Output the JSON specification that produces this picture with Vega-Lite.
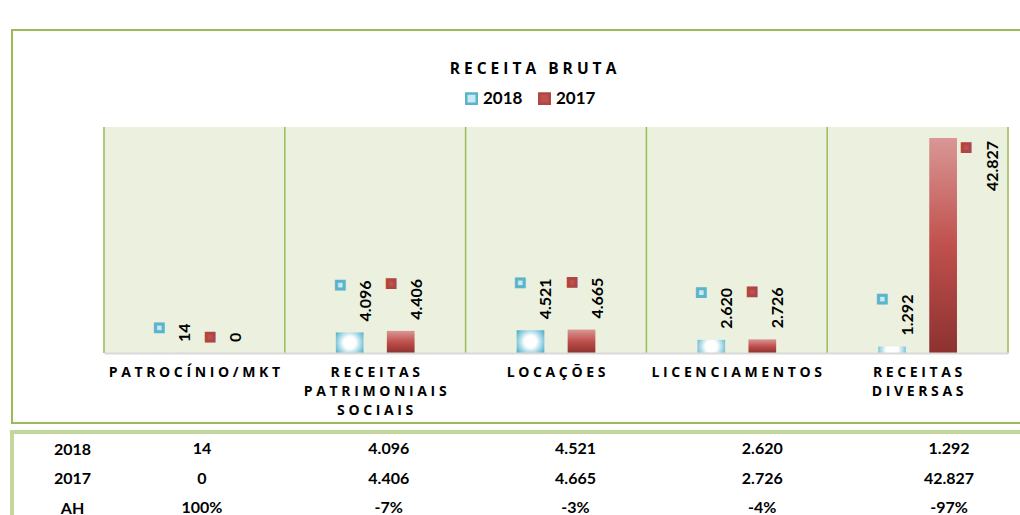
{
  "$schema": "https://vega.github.io/schema/vega-lite/v6.json",
  "padding": {"left": 10, "top": 29, "right": 0, "bottom": 0},
  "background": "#ffffff",
  "config": {
    "locale": {"number": {"decimal": ",", "thousands": ".", "grouping": [3], "currency": ["R$", ""], "minus": "-"}},
    "concat": {"spacing": 6},
    "text": {"font": "Lato"}
  },
  "datasets": {
    "receita": [
      {"cat": "PATROCÍNIO/MKT", "year": "2018", "value": 14},
      {"cat": "PATROCÍNIO/MKT", "year": "2017", "value": 0},
      {"cat": "RECEITAS PATRIMONIAIS SOCIAIS", "year": "2018", "value": 4096},
      {"cat": "RECEITAS PATRIMONIAIS SOCIAIS", "year": "2017", "value": 4406},
      {"cat": "LOCAÇÕES", "year": "2018", "value": 4521},
      {"cat": "LOCAÇÕES", "year": "2017", "value": 4665},
      {"cat": "LICENCIAMENTOS", "year": "2018", "value": 2620},
      {"cat": "LICENCIAMENTOS", "year": "2017", "value": 2726},
      {"cat": "RECEITAS DIVERSAS", "year": "2018", "value": 1292},
      {"cat": "RECEITAS DIVERSAS", "year": "2017", "value": 42827}
    ],
    "ah": [
      {"cat": "PATROCÍNIO/MKT", "ah": 1.0},
      {"cat": "RECEITAS PATRIMONIAIS SOCIAIS", "ah": -0.07},
      {"cat": "LOCAÇÕES", "ah": -0.03},
      {"cat": "LICENCIAMENTOS", "ah": -0.04},
      {"cat": "RECEITAS DIVERSAS", "ah": -0.97}
    ]
  },
  "vconcat": [
    {
      "width": 1042,
      "height": 393,
      "view": {"stroke": "#9BBB59", "strokeWidth": 2, "fill": "#ffffff"},
      "title": {"text": "R E C E I T A \u00a0 B R U T A", "anchor": "middle", "frame": "group", "orient": "top", "offset": -54, "baseline": "middle", "font": "Open Sans", "fontSize": 15.5, "fontWeight": "bold", "color": "#000000"},
      "data": {"name": "receita"},
      "layer": [
        {
          "transform": [{"filter": "datum.year === '2018'"}],
          "mark": {"type": "rect", "color": "#EBF1DE"},
          "encoding": {
            "x": {
              "field": "cat", "type": "nominal",
              "scale": {"domain": ["PATROCÍNIO/MKT", "RECEITAS PATRIMONIAIS SOCIAIS", "LOCAÇÕES", "LICENCIAMENTOS", "RECEITAS DIVERSAS"], "range": [92, 996], "paddingInner": 0, "paddingOuter": 0},
              "axis": {
                "orient": "bottom", "offset": -70, "title": null, "ticks": false, "grid": false, "zindex": 1,
                "domainColor": "#D9D9D9", "domainWidth": 2,
                "labelAngle": 0, "labelPadding": 12, "labelFont": "Open Sans", "labelFontWeight": "bold", "labelFontSize": 14, "labelColor": "#000000", "labelLineHeight": 19, "labelOverlap": false,
                "labelExpr": "datum.value == 'RECEITAS PATRIMONIAIS SOCIAIS' ? ['R E C E I T A S', 'P A T R I M O N I A I S', 'S O C I A I S'] : datum.value == 'RECEITAS DIVERSAS' ? ['R E C E I T A S', 'D I V E R S A S'] : join(split(datum.value, ''), ' ')"
              }
            },
            "y": {"datum": 45000, "type": "quantitative", "scale": {"domain": [0, 45000], "range": [323, 97], "nice": false, "zero": true}, "axis": null},
            "y2": {"datum": 0}
          }
        },
        {
          "transform": [{"filter": "datum.year === '2018'"}],
          "mark": {"type": "rule", "color": "#9BBB59", "strokeWidth": 1.5},
          "encoding": {
            "x": {"field": "cat", "type": "nominal", "bandPosition": 0},
            "y": {"datum": 45000, "type": "quantitative"},
            "y2": {"datum": 0}
          }
        },
        {
          "transform": [{"filter": "datum.year === '2018' && datum.cat === 'RECEITAS DIVERSAS'"}],
          "mark": {"type": "rule", "color": "#9BBB59", "strokeWidth": 1.5},
          "encoding": {
            "x": {"field": "cat", "type": "nominal", "bandPosition": 1},
            "y": {"datum": 45000, "type": "quantitative"},
            "y2": {"datum": 0}
          }
        },
        {
          "mark": {"type": "bar"},
          "encoding": {
            "x": {"field": "cat", "type": "nominal"},
            "xOffset": {"field": "year", "type": "nominal", "scale": {"domain": ["2018", "2017"], "paddingInner": 0.4565, "paddingOuter": 1.193}},
            "y": {"field": "value", "type": "quantitative"},
            "color": {
              "condition": {"test": "datum.year === '2018'", "value": {"gradient": "radial", "x1": 0.5, "y1": 0.5, "r1": 0, "x2": 0.5, "y2": 0.5, "r2": 0.62, "stops": [{"offset": 0, "color": "#ffffff"}, {"offset": 0.35, "color": "#ffffff"}, {"offset": 0.8, "color": "#7FC6D9"}, {"offset": 1, "color": "#4BACC6"}]}},
              "value": {"gradient": "linear", "x1": 0, "y1": 0, "x2": 0, "y2": 1, "stops": [{"offset": 0, "color": "#D99795"}, {"offset": 0.5, "color": "#C0504D"}, {"offset": 1, "color": "#8C3230"}]}
            }
          }
        },
        {
          "transform": [{"filter": "datum.value < 20000"}],
          "mark": {"type": "text", "angle": 270, "align": "left", "baseline": "middle", "dx": 11, "dy": -10, "font": "Lato", "fontSize": 16, "fontWeight": "bold", "strokeWidth": 3,
            "text": {"expr": "'\u2060' + replace(replace(slice(format(datum.value, ',d'), 0, -1), regexp('[0-9]', 'g'), '\u2007'), regexp('[.,]', 'g'), '\u2008') + '\u25a0'"}},
          "encoding": {
            "x": {"field": "cat", "type": "nominal"},
            "xOffset": {"field": "year", "type": "nominal"},
            "y": {"field": "value", "type": "quantitative"},
            "color": {"field": "year", "type": "nominal", "scale": {"domain": ["2018", "2017"], "range": ["#C9EAF3", "#BC5250"]},
              "legend": {"orient": "none", "legendX": 451, "legendY": 60, "direction": "horizontal", "title": null, "symbolType": "square", "symbolSize": 110, "labelFont": "Lato", "labelFontWeight": "bold", "labelFontSize": 17, "labelColor": "#000000", "labelOffset": 3, "columnPadding": 11, "padding": 0,
                "encode": {"symbols": {"update": {"stroke": {"scale": "stroke", "field": "value"}, "strokeWidth": {"value": 2.5}}}}}},
            "stroke": {"field": "year", "type": "nominal", "scale": {"domain": ["2018", "2017"], "range": ["#5BB4CC", "#B04644"]}, "legend": null}
          }
        },
        {
          "transform": [{"filter": "datum.value < 20000"}],
          "mark": {"type": "text", "angle": 270, "align": "left", "baseline": "middle", "dx": 11, "dy": 16, "font": "Lato", "fontSize": 16, "fontWeight": "bold", "color": "#000000"},
          "encoding": {
            "x": {"field": "cat", "type": "nominal"},
            "xOffset": {"field": "year", "type": "nominal"},
            "y": {"field": "value", "type": "quantitative"},
            "text": {"field": "value", "type": "quantitative", "format": ",d"}
          }
        },
        {
          "transform": [{"filter": "datum.value >= 20000"}],
          "mark": {"type": "text", "angle": 270, "align": "right", "baseline": "middle", "dx": -5, "dy": 23, "font": "Lato", "fontSize": 16, "fontWeight": "bold", "strokeWidth": 3, "text": "\u25a0"},
          "encoding": {
            "x": {"field": "cat", "type": "nominal"},
            "xOffset": {"field": "year", "type": "nominal"},
            "y": {"field": "value", "type": "quantitative"},
            "color": {"field": "year", "type": "nominal"},
            "stroke": {"field": "year", "type": "nominal", "legend": null}
          }
        },
        {
          "transform": [{"filter": "datum.value >= 20000"}],
          "mark": {"type": "text", "angle": 270, "align": "right", "baseline": "middle", "dx": -3, "dy": 50, "font": "Lato", "fontSize": 16, "fontWeight": "bold", "color": "#000000"},
          "encoding": {
            "x": {"field": "cat", "type": "nominal"},
            "xOffset": {"field": "year", "type": "nominal"},
            "y": {"field": "value", "type": "quantitative"},
            "text": {"field": "value", "type": "quantitative", "format": ",d"}
          }
        }
      ]
    },
    {
      "width": 1042,
      "height": 93.6,
      "view": {"stroke": "#C3D69B", "strokeWidth": 4, "fill": "#ffffff"},
      "encoding": {
        "x": {"field": "cat", "type": "nominal", "scale": {"type": "point", "domain": ["PATROCÍNIO/MKT", "RECEITAS PATRIMONIAIS SOCIAIS", "LOCAÇÕES", "LICENCIAMENTOS", "RECEITAS DIVERSAS"], "range": [190, 937], "padding": 0}, "axis": null}
      },
      "layer": [
        {
          "data": {"name": "receita"},
          "mark": {"type": "text", "font": "Lato", "fontSize": 16, "fontWeight": "bold", "color": "#000000"},
          "encoding": {
            "y": {"field": "year", "type": "nominal", "scale": {"type": "point", "domain": ["2018", "2017", "AH"], "padding": 0.586},
              "axis": {"orient": "left", "offset": -60, "title": null, "domain": false, "ticks": false, "grid": false, "labelPadding": 0, "labelAlign": "center", "labelFont": "Lato", "labelFontWeight": "bold", "labelFontSize": 16, "labelColor": "#000000"}},
            "text": {"field": "value", "type": "quantitative", "format": ",d"}
          }
        },
        {
          "data": {"name": "ah"},
          "mark": {"type": "text", "font": "Lato", "fontSize": 16, "fontWeight": "bold", "color": "#000000"},
          "encoding": {
            "y": {"datum": "AH", "type": "nominal"},
            "text": {"field": "ah", "type": "quantitative", "format": ".0%"}
          }
        }
      ]
    }
  ]
}
